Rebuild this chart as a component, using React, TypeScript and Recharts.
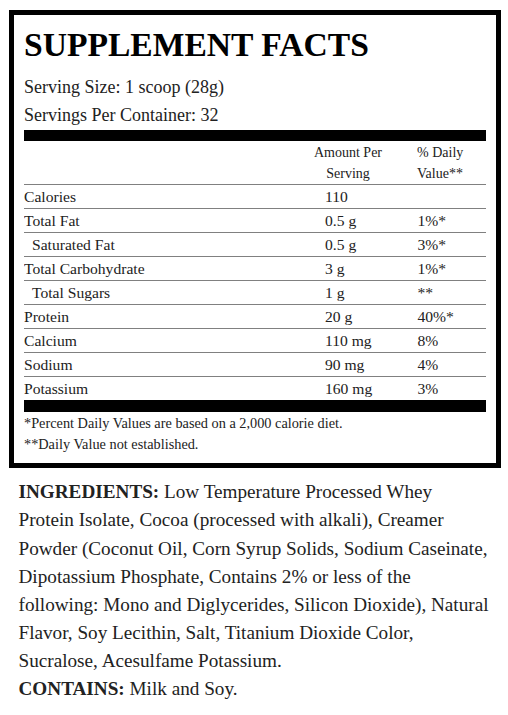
import React from 'react';
import { BarChart, Bar, XAxis, YAxis, Rectangle } from 'recharts';

const FONT = 'Liberation Serif';
const INK = '#222';

// table rows, top to bottom
const nutrients = ['Calories', 'Total Fat', 'Saturated Fat', 'Total Carbohydrate', 'Total Sugars', 'Protein', 'Calcium', 'Sodium', 'Potassium'];
const amounts = ['110', '0.5 g', '0.5 g', '3 g', '1 g', '20 g', '110 mg', '90 mg', '160 mg'];
const dailyValues = ['', '1%*', '3%*', '1%*', '**', '40%*', '8%', '4%', '3%'];
const subRows = ['Saturated Fat', 'Total Sugars'];

const servingLines = ['Serving Size: 1 scoop (28g)', 'Servings Per Container: 32'];
const headerAmount = ['Amount Per', 'Serving'];
const headerDv = ['% Daily', 'Value**'];
const footnotes = ['*Percent Daily Values are based on a 2,000 calorie diet.', '**Daily Value not established.'];

const ingredientLines = [
  'Low Temperature Processed Whey',
  'Protein Isolate, Cocoa (processed with alkali), Creamer',
  'Powder (Coconut Oil, Corn Syrup Solids, Sodium Caseinate,',
  'Dipotassium Phosphate, Contains 2% or less of the',
  'following: Mono and Diglycerides, Silicon Dioxide), Natural',
  'Flavor, Soy Lecithin, Salt, Titanium Dioxide Color,',
  'Sucralose, Acesulfame Potassium.',
];
const containsText = 'Milk and Soy.';

const rows = nutrients.map((name, i) => ({
  name,
  amount: amounts[i],
  dv: dailyValues[i],
  pct: parseFloat(dailyValues[i]) || 0,
}));

const RowTick = (props: any) => {
  const { y, payload } = props;
  const row = rows[payload.index];
  const indent = subRows.includes(row.name) ? 8 : 0;
  return (
    <g>
      <line x1={0} x2={462} y1={y - 11.5} y2={y - 11.5} stroke="#808080" strokeWidth={1} />
      <text x={indent} y={y + 5.5} fontSize={15.6} fill={INK} fontFamily={FONT}>{row.name}</text>
      <text x={301} y={y + 5.5} fontSize={15.6} fill={INK} fontFamily={FONT}>{row.amount}</text>
      <text x={393.5} y={y + 5.5} fontSize={15.6} fill={INK} fontFamily={FONT}>{row.dv}</text>
    </g>
  );
};

export default function App() {
  return (
    <div style={{ position: 'absolute', left: 0, top: 0, width: 508, height: 715, background: '#fff', fontFamily: FONT }}>
      <svg width={508} height={715} style={{ position: 'absolute', left: 0, top: 0 }}>
        <rect x={11.5} y={12.5} width={487} height={453} fill="none" stroke="#000" strokeWidth={5} />
        <text x={24} y={56} fontSize={33.6} fontWeight="bold" fill="#000" fontFamily={FONT}>SUPPLEMENT FACTS</text>
        {servingLines.map((t, i) => (
          <text key={t} x={24} y={92.7 + i * 28} fontSize={18} fill={INK} fontFamily={FONT}>{t}</text>
        ))}
        <Rectangle x={24} y={130} width={462} height={11} fill="#000" />
        {headerAmount.map((t, i) => (
          <text key={t} x={348} y={157.3 + i * 20.7} fontSize={14} textAnchor="middle" fill={INK} fontFamily={FONT}>{t}</text>
        ))}
        {headerDv.map((t, i) => (
          <text key={t} x={417} y={157.3 + i * 20.7} fontSize={14} fill={INK} fontFamily={FONT}>{t}</text>
        ))}
        <Rectangle x={24} y={400} width={462} height={12} fill="#000" />
        {footnotes.map((t, i) => (
          <text key={t} x={24} y={428.3 + i * 20.7} fontSize={14.3} fill={INK} fontFamily={FONT}>{t}</text>
        ))}
        {ingredientLines.map((t, i) => (
          <text key={t} x={18.5} y={498.3 + i * 28.1} fontSize={19.2} fill={INK} fontFamily={FONT}>
            {i === 0 && <tspan fontWeight="bold">INGREDIENTS: </tspan>}
            {t}
          </text>
        ))}
        <text x={18.5} y={498.3 + ingredientLines.length * 28.1} fontSize={19.2} fill={INK} fontFamily={FONT}>
          <tspan fontWeight="bold">CONTAINS: </tspan>
          {containsText}
        </text>
      </svg>
      <div style={{ position: 'absolute', left: 24, top: 184 }}>
        <BarChart width={462} height={216} layout="vertical" data={rows} margin={{ top: 0, right: 0, bottom: 0, left: 0 }}>
          <XAxis type="number" hide />
          <YAxis type="category" dataKey="name" width={1} interval={0} tickLine={false} axisLine={false} tick={<RowTick />} />
          <Bar dataKey="pct" fill="none" isAnimationActive={false} />
        </BarChart>
      </div>
    </div>
  );
}
